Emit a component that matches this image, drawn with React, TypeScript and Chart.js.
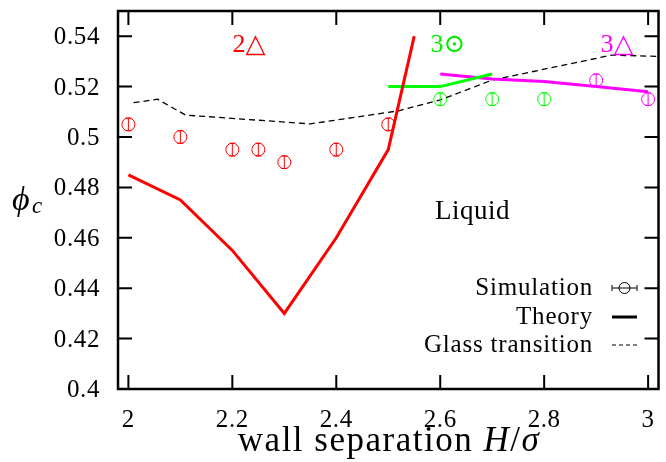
import React, { useEffect, useRef } from "react";
import { Chart, registerables } from "chart.js";

Chart.register(...registerables);

// ---- data ----
const xTicks = [2, 2.2, 2.4, 2.6, 2.8, 3];
const yTicks = [0.4, 0.42, 0.44, 0.46, 0.48, 0.5, 0.52, 0.54];

const redTheoryX = [2, 2.1, 2.2, 2.3, 2.4, 2.5, 2.55];
const redTheoryY = [0.485, 0.475, 0.455, 0.43, 0.46, 0.495, 0.54];
const greenTheoryX = [2.5, 2.6, 2.7];
const greenTheoryY = [0.52, 0.52, 0.525];
const magentaTheoryX = [2.6, 2.7, 2.8, 2.9, 3.0];
const magentaTheoryY = [0.525, 0.523, 0.522, 0.52, 0.518];

const glassX = [2.01, 2.056, 2.11, 2.35, 2.52, 2.6, 2.7, 2.93, 3.02];
const glassY = [0.5136, 0.515, 0.5087, 0.5052, 0.5104, 0.5147, 0.5226, 0.5325, 0.532];

const redSimX = [2, 2.1, 2.2, 2.25, 2.3, 2.4, 2.5];
const redSimY = [0.505, 0.5, 0.495, 0.495, 0.49, 0.495, 0.505];
const greenSimX = [2.6, 2.7, 2.8];
const greenSimY = [0.515, 0.515, 0.515];
const magentaSimX = [2.9, 3.0];
const magentaSimY = [0.5225, 0.515];
const simErr = 0.0025;

const legendLabels = ["Simulation", "Theory", "Glass transition"];
const annotations = [
  { text: "2\u25B3", x: 2.232, y: 0.5365, color: "#ff0000", size: 26 },
  { text: "3\u2299", x: 2.615, y: 0.5365, color: "#00ee00", size: 26 },
  { text: "3\u25B3", x: 2.94, y: 0.5365, color: "#ff00ff", size: 26 },
  { text: "Liquid", x: 2.662, y: 0.4702, color: "#000000", size: 27 },
];

const RED = "#ff0000";
const GREEN = "#00ff00";
const MAGENTA = "#ff00ff";
const SERIF = "'Liberation Serif', 'DejaVu Serif', serif";

Chart.defaults.font.family = SERIF;
Chart.defaults.font.size = 24;
Chart.defaults.color = "#000";

const pts = (xs: number[], ys: number[]) => xs.map((x, i) => ({ x, y: ys[i] }));

const theory = (label: string, xs: number[], ys: number[], color: string) => ({
  label,
  data: pts(xs, ys),
  showLine: true,
  borderColor: color,
  backgroundColor: color,
  borderWidth: 3,
  pointRadius: 0,
  tension: 0,
});

const sim = (label: string, xs: number[], ys: number[], color: string) => ({
  label,
  data: pts(xs, ys),
  showLine: false,
  borderColor: color,
  backgroundColor: "rgba(0,0,0,0)",
  pointStyle: "circle",
  pointRadius: 6.5,
  pointBorderWidth: 1,
  errorBar: true,
});

const setSpacing = (ctx: any, v: string) => {
  if ("letterSpacing" in ctx) ctx.letterSpacing = v;
};

const fmt = (v: number) => String(Number(v.toFixed(2)));

const framePlugin = {
  id: "frameAndExtras",
  afterDatasetsDraw(chart: any) {
    const { ctx, chartArea: a, scales } = chart;
    const xs = scales.x;
    const ys = scales.y;
    ctx.save();
    // error bars
    chart.data.datasets.forEach((ds: any) => {
      if (!ds.errorBar) return;
      ctx.strokeStyle = ds.borderColor;
      ctx.lineWidth = 1;
      ds.data.forEach((p: any) => {
        const px = xs.getPixelForValue(p.x);
        const pTop = ys.getPixelForValue(p.y + simErr);
        const pBot = ys.getPixelForValue(p.y - simErr);
        ctx.beginPath();
        ctx.moveTo(px, pTop);
        ctx.lineTo(px, pBot);
        ctx.moveTo(px - 3, pTop);
        ctx.lineTo(px + 3, pTop);
        ctx.moveTo(px - 3, pBot);
        ctx.lineTo(px + 3, pBot);
        ctx.stroke();
      });
    });
    // frame
    ctx.strokeStyle = "#000";
    ctx.lineWidth = 2.5;
    ctx.strokeRect(a.left, a.top, a.right - a.left, a.bottom - a.top);
    // inward ticks
    ctx.lineWidth = 2;
    const tl = 14;
    xTicks.forEach((v) => {
      const px = xs.getPixelForValue(v);
      ctx.beginPath();
      ctx.moveTo(px, a.bottom);
      ctx.lineTo(px, a.bottom - tl);
      ctx.moveTo(px, a.top);
      ctx.lineTo(px, a.top + tl);
      ctx.stroke();
    });
    yTicks.forEach((v) => {
      const py = ys.getPixelForValue(v);
      ctx.beginPath();
      ctx.moveTo(a.left, py);
      ctx.lineTo(a.left + tl, py);
      ctx.moveTo(a.right, py);
      ctx.lineTo(a.right - tl, py);
      ctx.stroke();
    });
    // tick labels
    ctx.fillStyle = "#000";
    ctx.font = `25px ${SERIF}`;
    setSpacing(ctx, "0.6px");
    ctx.textBaseline = "alphabetic";
    ctx.textAlign = "center";
    xTicks.forEach((v) => {
      ctx.fillText(fmt(v), xs.getPixelForValue(v), a.bottom + 38);
    });
    ctx.textAlign = "right";
    yTicks.forEach((v) => {
      ctx.fillText(fmt(v), a.left - 18, ys.getPixelForValue(v) + 8);
    });
    setSpacing(ctx, "0px");
    // annotations
    ctx.textAlign = "center";
    ctx.textBaseline = "middle";
    annotations.forEach((t) => {
      ctx.fillStyle = t.color;
      ctx.font = `${t.size}px ${SERIF}`;
      setSpacing(ctx, t.text === "Liquid" ? "0.5px" : "0px");
      ctx.fillText(t.text, xs.getPixelForValue(t.x), ys.getPixelForValue(t.y));
    });
    // legend
    const lx = 593;
    const rows = [288, 317, 345];
    ctx.font = `25px ${SERIF}`;
    setSpacing(ctx, "0.8px");
    ctx.textAlign = "right";
    ctx.fillStyle = "#000";
    legendLabels.forEach((l, i) => ctx.fillText(l, lx, rows[i]));
    setSpacing(ctx, "0px");
    const s0 = 612;
    const s1 = 637;
    // simulation symbol
    ctx.lineWidth = 1;
    ctx.strokeStyle = "#000";
    ctx.beginPath();
    ctx.moveTo(s0, rows[0]);
    ctx.lineTo(s1, rows[0]);
    ctx.moveTo(s0, rows[0] - 3);
    ctx.lineTo(s0, rows[0] + 3);
    ctx.moveTo(s1, rows[0] - 3);
    ctx.lineTo(s1, rows[0] + 3);
    ctx.stroke();
    ctx.beginPath();
    ctx.arc((s0 + s1) / 2, rows[0], 5.5, 0, Math.PI * 2);
    ctx.stroke();
    // theory symbol
    ctx.lineWidth = 3;
    ctx.beginPath();
    ctx.moveTo(s0, rows[1]);
    ctx.lineTo(s1, rows[1]);
    ctx.stroke();
    // glass symbol
    ctx.lineWidth = 1.2;
    ctx.setLineDash([4, 3]);
    ctx.beginPath();
    ctx.moveTo(s0, rows[2]);
    ctx.lineTo(s1, rows[2]);
    ctx.stroke();
    ctx.setLineDash([]);
    ctx.restore();
  },
  afterDraw(chart: any) {
    const { ctx } = chart;
    ctx.save();
    ctx.fillStyle = "#000";
    ctx.textBaseline = "alphabetic";
    // y title
    ctx.textAlign = "left";
    ctx.font = `italic 34px ${SERIF}`;
    ctx.fillText("\u03D5", 12, 210);
    ctx.font = `italic 23px ${SERIF}`;
    ctx.fillText("c", 32, 213);
    // x title
    setSpacing(ctx, "1.5px");
    const parts = [
      { t: "wall separation ", f: `35px ${SERIF}` },
      { t: "H", f: `italic 35px ${SERIF}` },
      { t: "/", f: `35px ${SERIF}` },
      { t: "\u03C3", f: `italic 35px ${SERIF}` },
    ];
    let total = 0;
    parts.forEach((p) => {
      ctx.font = p.f;
      total += ctx.measureText(p.t).width;
    });
    let x = 389 - total / 2;
    parts.forEach((p) => {
      ctx.font = p.f;
      ctx.fillText(p.t, x, 451);
      x += ctx.measureText(p.t).width;
    });
    setSpacing(ctx, "0px");
    ctx.restore();
  },
};

export default function App() {
  const ref = useRef<HTMLCanvasElement | null>(null);
  useEffect(() => {
    document.body.style.margin = "0";
    if (!ref.current) return;
    const chart = new Chart(ref.current, {
      type: "scatter",
      data: {
        datasets: [
          theory("Theory 2", redTheoryX, redTheoryY, RED),
          theory("Theory 3o", greenTheoryX, greenTheoryY, GREEN),
          theory("Theory 3t", magentaTheoryX, magentaTheoryY, MAGENTA),
          {
            label: "Glass transition",
            data: pts(glassX, glassY),
            showLine: true,
            borderColor: "#000",
            borderWidth: 1.3,
            borderDash: [6, 4],
            pointRadius: 0,
            tension: 0,
          },
          sim("Sim 2", redSimX, redSimY, RED),
          sim("Sim 3o", greenSimX, greenSimY, GREEN),
          sim("Sim 3t", magentaSimX, magentaSimY, MAGENTA),
        ] as any,
      },
      options: {
        responsive: false,
        animation: false,
        devicePixelRatio: 1,
        layout: { padding: { left: 0, top: 11, right: 3, bottom: 0 } },
        plugins: { legend: { display: false }, tooltip: { enabled: false } },
        scales: {
          x: {
            type: "linear",
            min: 1.98,
            max: 3.02,
            grid: { display: false, drawTicks: false },
            border: { display: false },
            afterBuildTicks: (s: any) => {
              s.ticks = xTicks.map((v) => ({ value: v }));
            },
            afterFit: (s: any) => {
              s.height = 73;
              s.paddingLeft = 0;
              s.paddingRight = 0;
            },
            ticks: { display: false },
          },
          y: {
            type: "linear",
            min: 0.4,
            max: 0.55,
            grid: { display: false, drawTicks: false },
            border: { display: false },
            afterBuildTicks: (s: any) => {
              s.ticks = yTicks.map((v) => ({ value: v }));
            },
            afterFit: (s: any) => {
              s.width = 118;
              s.paddingTop = 0;
              s.paddingBottom = 0;
            },
            ticks: { display: false },
          },
        },
      } as any,
      plugins: [framePlugin],
    });
    return () => chart.destroy();
  }, []);
  return <canvas ref={ref} width={666} height={462} style={{ display: "block" }} />;
}
